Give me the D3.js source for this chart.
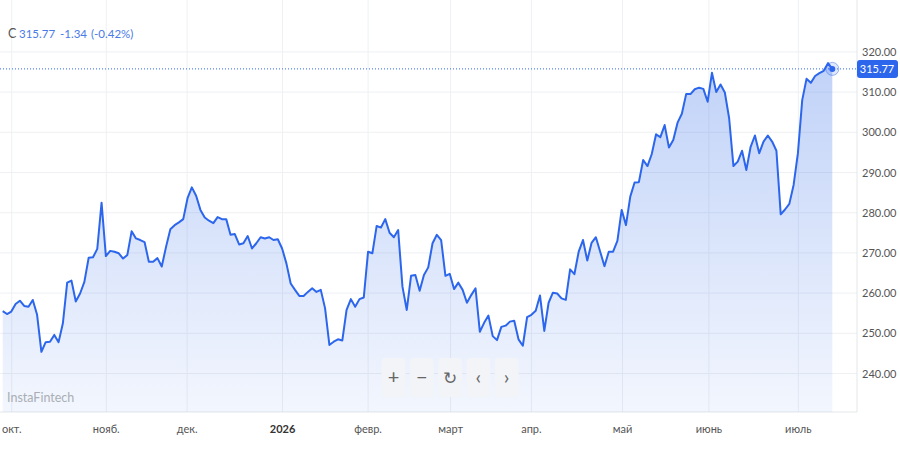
<!DOCTYPE html>
<html>
<head>
<meta charset="utf-8">
<script src="https://cdn.jsdelivr.net/npm/d3@7"></script>
<style>
  body { margin: 0; background: #fff; }
  svg text { font-family: Lato, "Noto Sans", sans-serif; }
</style>
</head>
<body>
<svg id="chart" width="900" height="455"></svg>
<script>
// daily closes, oct 2025 .. jul 2026
var closes = [
  255.5, 254.8, 255.4, 257.3, 258.1, 256.8, 256.6, 258.3, 254.6, 245.4,
  247.8, 247.9, 249.6, 247.8, 252.5, 262.6, 263.1, 257.9, 259.9, 262.8,
  268.8, 268.9, 271.0, 282.5, 269.2, 270.5, 270.3, 269.9, 268.6, 269.5,
  275.4, 273.6, 273.2, 272.7, 267.8, 267.8, 268.7, 266.6, 271.5, 275.9,
  276.9, 277.6, 278.4, 283.6, 286.3, 284.2, 280.7, 278.8, 278.0, 277.4,
  278.9, 278.4, 278.4, 274.5, 274.7, 272.1, 272.4, 274.2, 271.1, 272.4,
  273.9, 273.6, 273.9, 273.2, 273.4, 271.1, 267.4, 262.4, 260.8, 259.3,
  259.3, 260.3, 261.2, 260.3, 260.8, 256.2, 247.1, 247.9, 248.5, 248.2,
  255.8, 258.5, 256.6, 258.5, 258.9, 270.3, 269.9, 276.7, 276.3, 278.4,
  275.0, 273.9, 275.7, 261.6, 255.8, 264.3, 264.5, 260.6, 264.5, 266.4,
  272.4, 274.5, 273.2, 264.3, 264.8, 261.0, 262.6, 260.8, 257.6, 259.5,
  261.2, 250.4, 252.6, 254.4, 249.3, 248.3, 251.6, 251.9, 252.9, 253.1,
  248.5, 246.9, 254.0, 254.6, 255.6, 259.4, 250.6, 257.6, 260.1, 259.9,
  258.7, 258.3, 265.9, 264.7, 270.3, 273.2, 268.1, 272.5, 273.9, 270.3,
  266.7, 270.3, 270.3, 273.0, 280.7, 276.9, 284.0, 287.5, 287.6, 293.1,
  291.6, 294.6, 299.5, 298.8, 301.8, 296.2, 298.1, 302.4, 304.6, 309.5,
  309.5, 310.7, 311.1, 310.8, 307.6, 314.8, 310.0, 311.9, 309.9, 303.5,
  291.6, 292.7, 295.4, 290.6, 296.4, 299.2, 294.8, 297.7, 299.2, 297.7,
  295.4, 279.6, 280.8, 282.2, 286.9, 294.8, 308.0, 313.3, 312.3, 314.0,
  314.7, 315.3, 317.2, 315.77
];

var lastPrice = "315.77";
var change = "-1.34";
var changePct = "(-0.42%)";

// month starts, as positions in the closes array
var monthIdx = [2.1, 24.1, 42.9, 65.1, 85.0, 104.2, 123.0, 144.2, 164.3, 185.1];
var monthLabels = ["окт.", "нояб.", "дек.", "2026", "февр.", "март", "апр.", "май", "июнь", "июль"];

var priceTicks = [240, 250, 260, 270, 280, 290, 300, 310, 320];

var plotRight = 857, plotBottom = 412;

var svg = d3.select("#chart");

var x = d3.scaleLinear().domain([0, closes.length - 1]).range([2.7, 832.3]);
var y = d3.scaleLinear().domain([280, 320]).range([212.7, 51.9]);

var defs = svg.append("defs");
var grad = defs.append("linearGradient")
  .attr("id", "fillgrad")
  .attr("x1", 0).attr("y1", 0).attr("x2", 0).attr("y2", 1);
grad.append("stop").attr("offset", "0%").attr("stop-color", "#2f6ae8").attr("stop-opacity", 0.3);
grad.append("stop").attr("offset", "100%").attr("stop-color", "#2f6ae8").attr("stop-opacity", 0.06);

// grid
var grid = svg.append("g");
grid.selectAll(".hg")
  .data(priceTicks)
  .enter().append("line")
  .attr("x1", 0).attr("x2", plotRight)
  .attr("y1", function(d) { return y(d); })
  .attr("y2", function(d) { return y(d); })
  .attr("stroke", "#eef0f3");

grid.selectAll(".vg")
  .data(monthIdx)
  .enter().append("line")
  .attr("x1", function(d) { return x(d); })
  .attr("x2", function(d) { return x(d); })
  .attr("y1", 0).attr("y2", plotBottom)
  .attr("stroke", "#eef0f3");

grid.append("line")
  .attr("x1", plotRight).attr("x2", plotRight)
  .attr("y1", 0).attr("y2", plotBottom)
  .attr("stroke", "#e3e6ea");
grid.append("line")
  .attr("x1", 0).attr("x2", plotRight)
  .attr("y1", plotBottom).attr("y2", plotBottom)
  .attr("stroke", "#e3e6ea");

// area + line
var area = d3.area()
  .x(function(d, i) { return x(i); })
  .y0(plotBottom)
  .y1(function(d) { return y(d); });

var line = d3.line()
  .x(function(d, i) { return x(i); })
  .y(function(d) { return y(d); });

svg.append("path")
  .datum(closes)
  .attr("d", area)
  .attr("fill", "url(#fillgrad)");

svg.append("path")
  .datum(closes)
  .attr("d", line)
  .attr("fill", "none")
  .attr("stroke", "#2c66ec")
  .attr("stroke-width", 2)
  .attr("stroke-linejoin", "round");

// last price line
var lastY = y(+lastPrice);
svg.append("line")
  .attr("x1", 0).attr("x2", plotRight)
  .attr("y1", lastY).attr("y2", lastY)
  .attr("stroke", "#2c66ec")
  .attr("stroke-width", 1)
  .attr("stroke-dasharray", "1,2");

var lastX = x(closes.length - 1);
svg.append("circle")
  .attr("cx", lastX).attr("cy", lastY).attr("r", 6.5)
  .attr("fill", "rgba(44,102,236,0.15)")
  .attr("stroke", "rgba(44,102,236,0.45)")
  .attr("stroke-width", 1);
svg.append("circle")
  .attr("cx", lastX).attr("cy", lastY).attr("r", 3)
  .attr("fill", "#2c66ec");

// price axis
var yAxis = svg.append("g");
yAxis.selectAll("text")
  .data(priceTicks)
  .enter().append("text")
  .attr("x", 862)
  .attr("y", function(d) { return y(d) + 4; })
  .attr("font-size", 11)
  .attr("fill", "#555")
  .text(function(d) { return d.toFixed(2); });

svg.append("rect")
  .attr("x", 857).attr("y", lastY - 9)
  .attr("width", 41).attr("height", 18)
  .attr("rx", 3)
  .attr("fill", "#2c66ec");
svg.append("text")
  .attr("x", 877).attr("y", lastY + 4)
  .attr("text-anchor", "middle")
  .attr("font-size", 11)
  .attr("fill", "#fff")
  .text(lastPrice);

// time axis
svg.append("g").selectAll("text")
  .data(monthIdx)
  .enter().append("text")
  .attr("x", function(d) { return x(d); })
  .attr("y", 433)
  .attr("text-anchor", "middle")
  .attr("font-size", 11)
  .attr("font-weight", function(d, i) { return monthLabels[i] == "2026" ? "bold" : "normal"; })
  .attr("fill", function(d, i) { return monthLabels[i] == "2026" ? "#333" : "#555"; })
  .text(function(d, i) { return monthLabels[i]; });

// header
var head = svg.append("g").attr("font-size", 11.5);
head.append("text").attr("x", 8).attr("y", 38).attr("font-size", 12.5).attr("fill", "#555").text("C");
head.append("text").attr("x", 19).attr("y", 38).attr("fill", "#4a7ae8").text(lastPrice);
head.append("text").attr("x", 60).attr("y", 38).attr("fill", "#4a7ae8").text(change);
head.append("text").attr("x", 91).attr("y", 38).attr("fill", "#4a7ae8").text(changePct);

// watermark
svg.append("text")
  .attr("x", 7).attr("y", 402)
  .attr("font-size", 12.5)
  .attr("fill", "#aaaeb4")
  .text("InstaFintech");

// toolbar
var buttons = ["+", "\u2212", "\u21bb", "\u2039", "\u203a"];
var tb = svg.append("g").selectAll("g")
  .data(buttons)
  .enter().append("g")
  .attr("transform", function(d, i) { return "translate(" + (381.5 + i * 28.3) + ",358)"; });
tb.append("rect")
  .attr("width", 24).attr("height", 39).attr("rx", 4)
  .attr("fill", "#f2f4f7");
tb.append("text")
  .attr("x", 12).attr("y", 26)
  .attr("text-anchor", "middle")
  .attr("font-size", function(d, i) { return i == 2 ? 17 : 20; })
  .attr("fill", "#666")
  .text(function(d) { return d; });
</script>
</body>
</html>
